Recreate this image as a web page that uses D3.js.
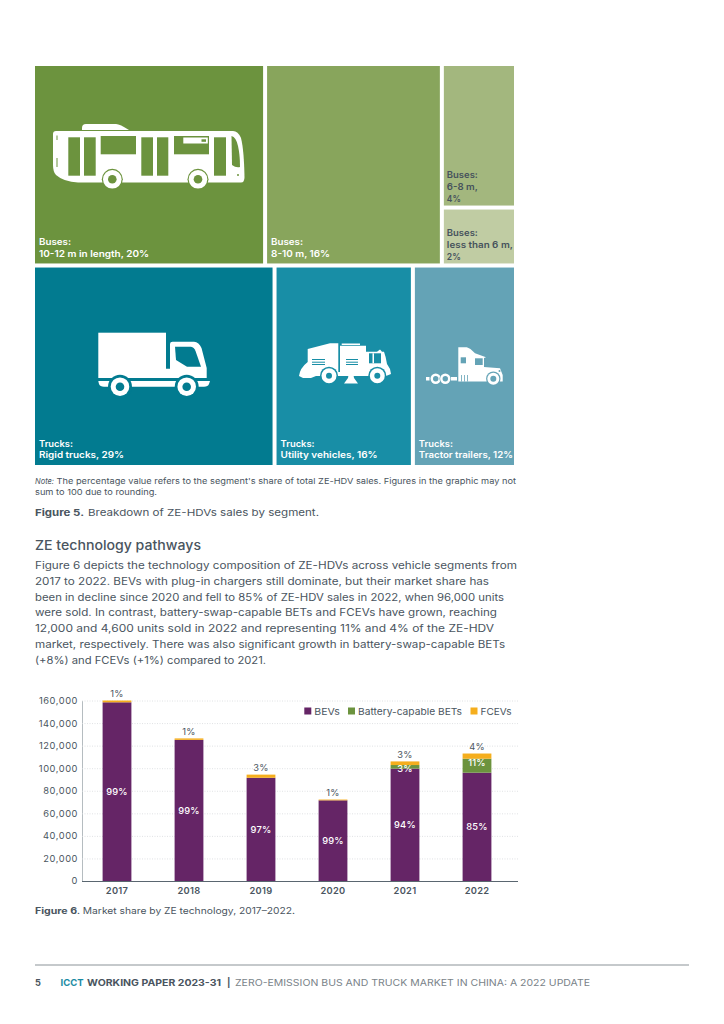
<!DOCTYPE html>
<html><head><meta charset="utf-8">
<script src="https://cdn.jsdelivr.net/npm/d3@7"></script>
<style>html,body{margin:0;background:#fff}svg{display:block}text{font-family:Inter,"Open Sans",sans-serif}</style>
</head><body><svg id="c" width="724" height="1024"></svg>
<script>
const years=["2017","2018","2019","2020","2021","2022"];
const bevs=[158400,125100,91500,71500,99600,96000];
const bets=[0,0,0,0,3200,12400];
const fcevs=[1600,1300,2800,700,3200,4600];
const bevLabels=["99%","99%","97%","99%","94%","85%"];
const betLabels=["","","","","3%","11%"];
const fcevLabels=["1%","1%","3%","1%","3%","4%"];
const yTicks=[0,20000,40000,60000,80000,100000,120000,140000,160000];
const seriesNames=["BEVs","Battery-capable BETs","FCEVs"];
const seriesColors=["#652566","#6c933e","#f5ae1d"];
const busNames=[["Buses:","10-12 m in length, 20%"],["Buses:","8-10 m, 16%"]];
const busNameWidths=[[32,110],[32,59]];
const busDrawnShares=[20,15.15,6.15];
const smallBusNames=[["Buses:","6-8 m,","4%"],["Buses:","less than 6 m,","2%"]];
const smallBusNameWidths=[[31,31,14],[31,66,14]];
const smallBusDrawnShares=[4.4,1.7];
const truckNames=[["Trucks:","Rigid trucks, 29%"],["Trucks:","Utility vehicles, 16%"],["Trucks:","Tractor trailers, 12%"]];
const truckNameWidths=[[34,85],[34,97],[34,94]];
const truckDrawnShares=[29,16.4,12.1];
const busColors=["#6c933e","#88a55c","#a3b77e"];
const smallBusColors=["#a3b77e","#c0cca3"];
const truckColors=["#027b90","#188ea6","#64a3b6"];
const noteLine1="The percentage value refers to the segment's share of total ZE-HDV sales. Figures in the graphic may not";
const noteLine2="sum to 100 due to rounding.";
const bodyLines=["Figure 6 depicts the technology composition of ZE-HDVs across vehicle segments from","2017 to 2022. BEVs with plug-in chargers still dominate, but their market share has","been in decline since 2020 and fell to 85% of ZE-HDV sales in 2022, when 96,000 units","were sold. In contrast, battery-swap-capable BETs and FCEVs have grown, reaching","12,000 and 4,600 units sold in 2022 and representing 11% and 4% of the ZE-HDV","market, respectively. There was also significant growth in battery-swap-capable BETs","(+8%) and FCEVs (+1%) compared to 2021."];
const bodyWidths=[482,454,469,462,459,470,231];

const svg=d3.select("#c");
const ink="#4a5560";
function txt(g,x,y,s,o={}){const t=g.append("text").attr("x",x).attr("y",y).text(s)
 .attr("font-size",o.size||9).attr("fill",o.fill||ink).attr("font-weight",o.weight||400)
 .attr("text-anchor",o.anchor||"start");
 if(o.style)t.attr("font-style",o.style);
 if(o.ls)t.attr("letter-spacing",o.ls);
 if(o.len){t.attr("textLength",o.len).attr("lengthAdjust","spacingAndGlyphs");}
 return t;}

/* treemap */
const tm=svg.append("g");
const rowY=d3.scaleBand().domain(["bus","truck"]).range([66,465]).paddingInner(0.0202);
const left=35,right=514,gap=4;
function rowLayout(shares){const avail=right-left-gap*(shares.length-1);
 const k=d3.scaleLinear().domain([0,d3.sum(shares)]).range([0,avail]);
 let acc=0;return shares.map((v,i)=>{const a=left+k(acc)+gap*i;acc+=v;return [a,left+k(acc)+gap*i];});}
const busCols=rowLayout(busDrawnShares), truckCols=rowLayout(truckDrawnShares);
function tile(x0,x1,y0,y1,fill){
 tm.append("rect").attr("x",x0).attr("y",y0).attr("width",x1-x0).attr("height",y1-y0).attr("fill",fill);
}
function label(x,base,lines,widths,fill,step){lines.forEach((l,i)=>txt(tm,x+4,base-(lines.length-1-i)*(step||11.5),l,{size:9,weight:600,len:widths[i],fill:fill||"#fff"}));}
const by0=rowY("bus"),by1=by0+rowY.bandwidth(),ty0=rowY("truck"),ty1=ty0+rowY.bandwidth();
busNames.forEach((n,i)=>{tile(busCols[i][0],busCols[i][1],by0,by1,busColors[i]);label(busCols[i][0],by1-6.5,n,busNameWidths[i]);});
const sk=d3.scaleLinear().domain([0,d3.sum(smallBusDrawnShares)]).range([0,by1-by0-gap]);
const sy=[[by0,by0+sk(smallBusDrawnShares[0])],[by0+sk(smallBusDrawnShares[0])+gap,by1]];
smallBusNames.forEach((n,i)=>{tile(busCols[2][0],busCols[2][1],sy[i][0],sy[i][1],smallBusColors[i]);label(busCols[2][0]-1,sy[i][1]-3.8,n,smallBusNameWidths[i],"#46525c",11.8);});
truckNames.forEach((n,i)=>{tile(truckCols[i][0],truckCols[i][1],ty0,ty1,truckColors[i]);label(truckCols[i][0],ty1-7,n,truckNameWidths[i]);});

/* icons */
const W="#fff";
function P(g,d,f){g.append("path").attr("fill",f||W).attr("d",d);}
function R(g,a,b,c,d,f){g.append("rect").attr("x",a).attr("y",b).attr("width",c-a).attr("height",d-b).attr("fill",f||W);}
function C(g,x,y,r,f){g.append("circle").attr("cx",x).attr("cy",y).attr("r",r).attr("fill",f||W);}
function wheel(g,x,y,a,o,i,f){C(g,x,y,a,f);C(g,x,y,o);C(g,x,y,i,f);}
(function(){const g=tm.append("g"),G=busColors[0];
 P(g,"M82 128Q82 124 86 124L116 124Q120 124 129 130L82 130Z");
 P(g,"M56 131L233 131Q238 131 241 138Q244 150 244.5 177Q244.5 182.5 241 182.5L78 182.5Q64 182 56 175Q53 172 53 165L53 134Q53 131 56 131Z");
 [[68.3,137.3,80,175.7],[84,137.3,95.7,175.7],[100.7,136,136,154.3],[141.3,137.3,153,175.7],[157,137.3,168.3,175.7],[174,136,209,154.3],[214,137.3,226,175.7]].forEach(r=>R(g,r[0],r[1],r[2],r[3],G));
 P(g,"M231.5 136Q236 137 238 146Q240 155 240 167Q236 168 232 165Z",G);
 R(g,183.3,137.5,207.8,143.5);R(g,201.5,139.3,206,141.8,G);
 R(g,56.5,135.5,57.5,140,G);R(g,56.5,158,57.5,167,G);C(g,238,175,1,G);
 [112.3,198].forEach(cx=>wheel(g,cx,179.3,10.5,9.3,4.3,G));
})();
(function(){const g=tm.append("g"),G=truckColors[0];
 R(g,98.3,332.7,166,378);
 P(g,"M166 368.7L170 368.7L170 344Q170 341.7 172.5 341.7L194 341.7Q199 342 201.5 348L206.7 368L206.7 378L166 378Z");
 P(g,"M175 346.7L191 346.7Q194 347 195.5 351L201 366.7L187 366.7L176 360Z",G);
 P(g,"M98.3 381L210 381L209 384Q208 386.7 204 386.7L104 386.7Q100 386.7 99 384Z");
 [120,186.7].forEach(cx=>wheel(g,cx,386.7,12,9.3,4.3,G));
})();
(function(){const g=tm.append("g"),G=truckColors[1];
 P(g,"M307.7 349L330 343.3L338.3 343.3L338.3 372L340 372L340 345.7L366 345.7L366 351.7L377 351.7L380 349.5L382 351.7L384 351.7Q386 357 387 364L390 369L391 374L386 376L316 376L311 378L303 378L299 376Q300 368 307.7 362Z");
 R(g,341.7,343.5,360,345);
 R(g,369,353.3,381,363.3,G);R(g,372.5,353.3,374,363.3);
 [359,361.7,364].forEach(y=>{R(g,312,y,325,y+1,G);R(g,346,y,358,y+1,G);});
 [329,377.3].forEach(cx=>wheel(g,cx,375.7,9,7.5,3,G));
 P(g,"M349 372L353 372L354 378L358 383.5L344 383.5L348 378Z");
})();
(function(){const g=tm.append("g"),G=truckColors[2];
 P(g,"M458.3 347.3L466.7 347.3Q470 348 475 353.3L486 357.3L484 358L484 367L500 368.3L502.7 375L502.7 381.5L458.3 381.5Z");
 R(g,460.7,357.3,466,363.3,G);R(g,475,358.3,482.7,365,G);
 [461,464,467].forEach(x=>R(g,x,375,x+.8,381.5,G));
 R(g,451,377,457,380.5);R(g,426,377,429.5,380.5);
 [435.7,445.3].forEach(cx=>wheel(g,cx,378.7,5.8,5.2,2.7,G));
 wheel(g,493.3,378.7,7.2,6,3,G);
 C(g,499.5,371,1,G);
})();

/* text block */
const tb=svg.append("g");
txt(tb,35,484,"Note:",{size:8.2,style:"italic",len:19});
txt(tb,56.5,484,noteLine1,{size:8.2,len:459.5});
txt(tb,35,495,noteLine2,{size:8.2,len:122});
txt(tb,35,516,"Figure 5.",{size:9.6,weight:700,len:49});
txt(tb,88,516,"Breakdown of ZE-HDVs sales by segment.",{size:9.6,len:231});
txt(tb,35,550,"ZE technology pathways",{size:13,weight:500,len:166});
bodyLines.forEach((l,i)=>txt(tb,35,569+i*15.8,l,{size:10.3,len:bodyWidths[i]}));
txt(tb,35,914,"Figure 6",{size:8.8,weight:700,len:42});
txt(tb,77,914,". Market share by ZE technology, 2017–2022.",{size:8.8,len:218});

/* stacked bar chart */
const table=years.map((y,i)=>({year:y,BEVs:bevs[i],"Battery-capable BETs":bets[i],FCEVs:fcevs[i]}));
const stacked=d3.stack().keys(seriesNames)(table);
const x=d3.scaleBand().domain(years).range([81,513]).paddingInner(0.6).paddingOuter(0.3);
const y=d3.scaleLinear().domain([0,160000]).range([881,700.5]);
const ch=svg.append("g");
const yAxis=ch.append("g").attr("transform","translate(82,0)").call(d3.axisLeft(y).tickValues(yTicks).tickSize(0).tickPadding(4).tickFormat(d3.format(",")));
yAxis.select(".domain").attr("stroke","#b5bcc0");
yAxis.selectAll("text").attr("font-size",9.3).attr("fill",ink).attr("letter-spacing",0.55).style("font-family","Inter");
ch.append("g").selectAll("line").data(yTicks.filter(d=>d>0)).join("line")
 .attr("x1",82).attr("x2",518).attr("y1",d=>y(d)+.5).attr("y2",d=>y(d)+.5)
 .attr("stroke","#d8dbdd").attr("stroke-width",.8).attr("stroke-dasharray","1 1.5");
const xAxis=ch.append("g").attr("transform","translate(0,881)").call(d3.axisBottom(x).tickSize(0).tickPadding(6));
xAxis.select(".domain").attr("stroke","#5a6670").attr("stroke-width",1).attr("d","M82,0.5H518");
xAxis.selectAll("text").attr("font-size",9.3).attr("font-weight",600).attr("fill",ink).attr("letter-spacing",0.3).style("font-family","Inter");
stacked.forEach((s,k)=>{
 ch.append("g").selectAll("rect").data(s).join("rect")
  .attr("x",d=>x(d.data.year)).attr("width",x.bandwidth())
  .attr("y",d=>y(d[1])).attr("height",d=>y(d[0])-y(d[1])).attr("fill",seriesColors[k]);
});
const lab=ch.append("g").attr("text-anchor","middle").attr("letter-spacing",0.25);
years.forEach((yr,i)=>{
 const cx=x(yr)+x.bandwidth()/2, b=stacked[0][i], m=stacked[1][i], t=stacked[2][i];
 txt(lab,cx,y((b[0]+b[1])/2)+3.5,bevLabels[i],{size:9.3,weight:500,fill:"#fff",anchor:"middle"});
 if(betLabels[i])txt(lab,cx,y(m[0])+(i==4?3:-7),betLabels[i],{size:9.3,weight:500,fill:"#fff",anchor:"middle"});
 txt(lab,cx,y(t[1])-3.2,fcevLabels[i],{size:9.3,weight:400,anchor:"middle"});
});
const legendX=d3.scaleOrdinal().domain(seriesNames).range([304.3,348,470.5]);
const legendLen=d3.scaleOrdinal().domain(seriesNames).range([25.5,104,31]);
seriesNames.forEach((n,i)=>{
 ch.append("rect").attr("x",legendX(n)).attr("y",707.5).attr("width",7).attr("height",7).attr("fill",seriesColors[i]);
 txt(ch,legendX(n)+10,714.5,n,{size:9.3,len:legendLen(n)});
});

/* footer */
const ft=svg.append("g");
ft.append("line").attr("x1",35).attr("x2",689).attr("y1",965).attr("y2",965).attr("stroke","#8b9398").attr("stroke-width",1);
txt(ft,35,986,"5",{size:9.2,weight:700});
txt(ft,60.5,986,"ICCT",{size:9.2,weight:700,fill:"#1b8ba3",len:23});
txt(ft,87,986,"WORKING PAPER 2023-31",{size:9.2,weight:700,len:134});
txt(ft,227,986,"|",{size:9.2,weight:700});
txt(ft,235,986,"ZERO-EMISSION BUS AND TRUCK MARKET IN CHINA: A 2022 UPDATE",{size:9.2,fill:"#7a8389",len:355});
</script></body></html>
